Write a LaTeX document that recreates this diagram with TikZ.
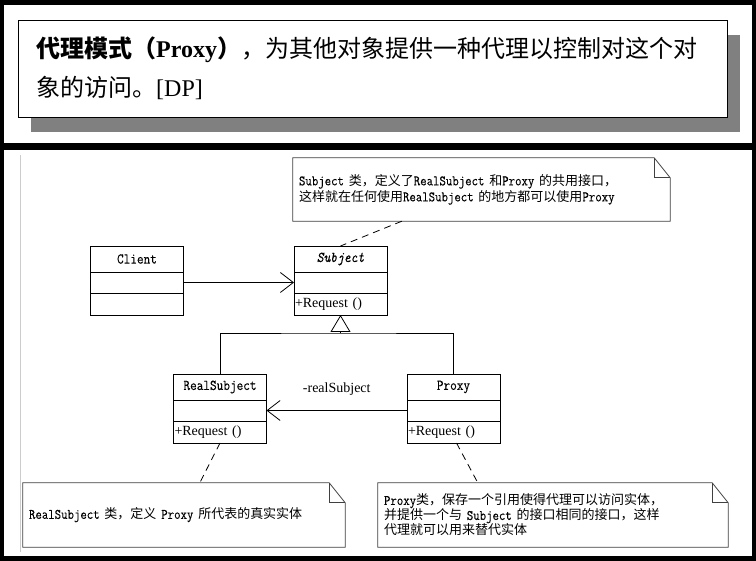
\documentclass[tikz,border=0pt]{standalone}
\usepackage{fontspec}
\setmainfont{Liberation Serif}
\newfontfamily\cjk{Noto Sans CJK SC}
\newfontfamily\umlmono[FakeStretch=0.86, FakeBold=0.12]{Latin Modern Mono}
\usepackage{tikz}
\usetikzlibrary{
  arrows.meta,
  positioning,
  shadows
}
\newcommand{\zh}[1]{{\cjk #1}}
\newcommand{\notezh}[1]{{\cjk\fontsize{13}{16}\selectfont #1}}
\newcommand{\foldnote}[1]{%
  \draw[notebox] (#1.north west) -- ([xshift=-16pt]#1.north east) -- ([yshift=-20pt]#1.north east) -- (#1.south east) -- (#1.south west) -- cycle;
  \draw[notebox] ([xshift=-16pt]#1.north east) |- ([yshift=-20pt]#1.north east);}
\tikzset{
    umlfont/.style={font=\umlmono\fontsize{15}{16}\selectfont},
    classname/.style={draw, line width=0.8pt, minimum width=93pt, minimum height=26pt, inner sep=0pt, outer sep=0pt, umlfont},
    classattr/.style={draw, line width=0.8pt, minimum width=93pt, minimum height=21pt, inner sep=0pt, outer sep=0pt},
    classops/.style={draw, line width=0.8pt, minimum height=22pt, inner xsep=1pt, inner ysep=0pt, outer sep=0pt, text width=91pt, align=left, font=\fontsize{14}{16}\selectfont},
    notetext/.style={inner xsep=6pt, inner ysep=0pt, align=left, font=\umlmono\fontsize{14.5}{16}\selectfont},
    notebox/.style={line width=0.8pt, black!75},
    notelink/.style={line width=0.8pt, dash pattern=on 7pt off 5pt},
    assoc/.style={line width=0.8pt, -{Straight Barb[length=13pt, width=20pt]}},
    general/.style={line width=0.8pt, -{Triangle[open, length=17pt, width=20pt]}}
}

\begin{document}
\begin{tikzpicture}[x=1pt, y=-1pt]
    \useasboundingbox (0,0) rectangle (756,561);
    \fill[black] (0,0) rectangle (756,561);
    \fill[white] (4,5) rectangle (752,143);
    \fill[white] (4,150) rectangle (752,556);
    \draw[black!20, line width=0.8pt] (20,155) -- (20,552);

    % definition box
    \node[draw, fill=white, line width=0.8pt, minimum width=709pt, minimum height=97pt,
          drop shadow={shadow xshift=13pt, shadow yshift=-15pt, fill=black!50, opacity=1}] (defbox) at (372.5,68.5) {};
    \node[anchor=west, inner sep=0pt, font=\fontsize{24}{28}\selectfont] (defline1) at (36,50)
        {{\cjk\bfseries 代理模式（}{\bfseries Proxy}{\cjk\bfseries ）}\zh{，为其他对象提供一种代理以控制对这个对}};
    \node[anchor=west, inner sep=0pt, font=\fontsize{24}{28}\selectfont] (defline2) at (36,88)
        {\zh{象的访问。}[DP]};

    % classes
    \node[classname] (clientname) at (137,259) {Client};
    \node[classattr, below=0pt of clientname] (clientattr) {};
    \node[classops, below=0pt of clientattr] (clientops) {};

    \node[classname] (subjname) at (340.5,259) {\itshape Subject};
    \node[classattr, below=0pt of subjname] (subjattr) {};
    \node[classops, below=0pt of subjattr] (subjops) {+Request ()};

    \node[classname] (realname) at (220,387) {RealSubject};
    \node[classattr, below=0pt of realname] (realattr) {};
    \node[classops, below=0pt of realattr] (realops) {+Request ()};

    \node[classname] (proxyname) at (453.5,387) {Proxy};
    \node[classattr, below=0pt of proxyname] (proxyattr) {};
    \node[classops, below=0pt of proxyattr] (proxyops) {+Request ()};

    % relations
    \draw[assoc] (clientattr.east) -- (subjattr.west);
    \coordinate (genjoin) at (340.5,333);
    \draw[line width=0.8pt] (realname.north) |- (genjoin) -| (proxyname.north);
    \draw[general] (genjoin) -- (subjops.south);
    \draw[assoc] (proxyattr.west) -- node[above=11pt, font=\fontsize{14}{16}\selectfont] (assoclabel) {-realSubject} (realattr.east);

    % notes
    \node[notetext, text width=365pt, minimum height=63pt] (subjnote) at (481.5,189.5)
        {Subject \notezh{类，定义了}RealSubject \notezh{和}Proxy \notezh{的共用接口，}\\
         \notezh{这样就在任何使用}RealSubject \notezh{的地方都可以使用}Proxy};
    \foldnote{subjnote}
    \node[notetext, text width=310pt, minimum height=64pt] (realnote) at (184,515)
        {RealSubject \notezh{类，定义} Proxy \notezh{所代表的真实实体}};
    \foldnote{realnote}
    \node[notetext, text width=338pt, minimum height=64pt, font=\umlmono\fontsize{14.5}{15}\selectfont] (proxynote) at (553,515)
        {Proxy\notezh{类，保存一个引用使得代理可以访问实体，}\\
         \notezh{并提供一个与} Subject \notezh{的接口相同的接口，这样}\\
         \notezh{代理就可以用来替代实体}};
    \foldnote{proxynote}

    \draw[notelink] ([xshift=109pt]subjnote.south west) -- (subjname.north);
    \draw[notelink] (realops.south) -- ([xshift=177pt]realnote.north west);
    \draw[notelink] ([xshift=3pt]proxyops.south) -- ([xshift=100pt]proxynote.north west);
\end{tikzpicture}
\end{document}
